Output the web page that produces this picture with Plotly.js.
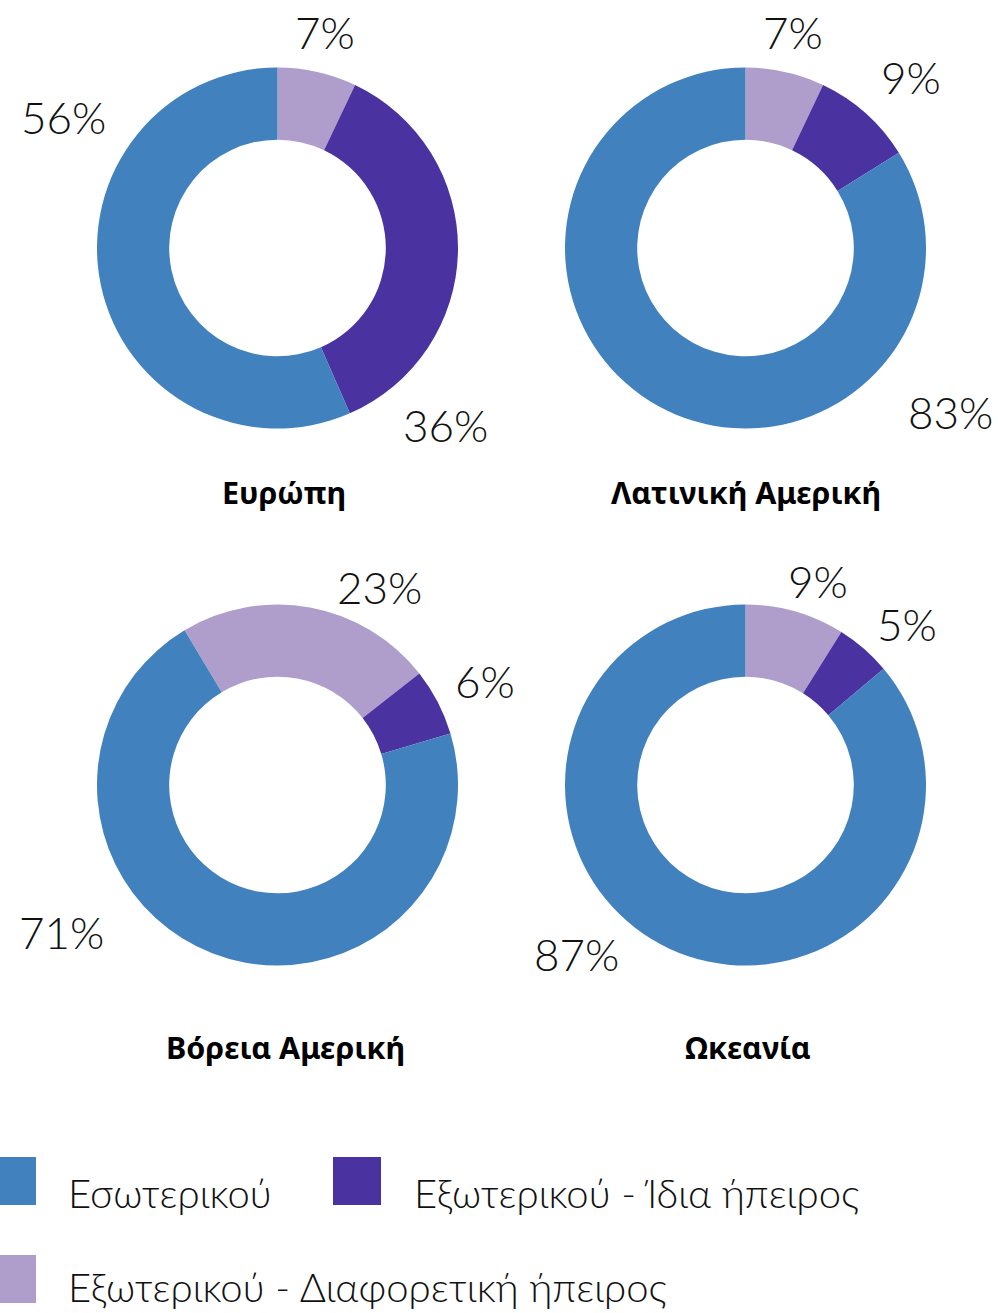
<!DOCTYPE html>
<html>
<head>
<meta charset="utf-8">
<script src="https://cdn.plot.ly/plotly-3.0.1.min.js"></script>
<style>
  html, body { margin: 0; padding: 0; background: #ffffff; }
  #chart { width: 998px; height: 1313px; }
</style>
</head>
<body>
<div id="chart"></div>
<script>
// ---- Data ----
const regions = ['Ευρώπη', 'Λατινική Αμερική', 'Βόρεια Αμερική', 'Ωκεανία'];
const categories = ['Εξωτερικού - Διαφορετική ήπειρος', 'Εξωτερικού - Ίδια ήπειρος', 'Εσωτερικού'];
const europe = [7, 36, 56];
const latinAmerica = [7, 9, 83];
const northAmerica = [23, 6, 71];
const oceania = [9, 5, 87];
const legendOrder = ['Εσωτερικού', 'Εξωτερικού - Ίδια ήπειρος', 'Εξωτερικού - Διαφορετική ήπειρος'];

// ---- Styling / layout (not data) ----
const W = 998, H = 1313;
const colors = {
  'Εξωτερικού - Διαφορετική ήπειρος': '#AF9ECC',
  'Εξωτερικού - Ίδια ήπειρος': '#4A33A0',
  'Εσωτερικού': '#4181BD'
};
const seriesList = [europe, latinAmerica, northAmerica, oceania];
const centers = [[277.5, 248], [745.5, 248], [277.5, 785], [745.5, 785]];
const radius = 180.5;
const rotations = [0, 0, -31, 0];
const titlePos = [[284, 492], [746, 492], [285, 1047], [748, 1047]];
const labelPos = [
  [[325, 32], [445, 425], [64, 117]],
  [[793, 32], [911, 77], [950, 412]],
  [[379, 587], [485, 681], [61, 932]],
  [[818, 581], [907, 624], [576, 954]]
];
// [square x, square y, text x, text center y]
const legendPos = [[-12, 1157, 66, 1193], [333, 1157, 412, 1193], [-12, 1255, 66, 1287]];
const sq = 48;

const px = x => x / W;
const py = y => 1 - y / H;

const data = seriesList.map((vals, k) => {
  const [cx, cy] = centers[k];
  return {
    type: 'pie',
    labels: categories,
    values: vals,
    hole: 0.6,
    sort: false,
    direction: 'clockwise',
    rotation: rotations[k],
    textinfo: 'none',
    hoverinfo: 'label+percent',
    showlegend: false,
    marker: { colors: categories.map(c => colors[c]), line: { width: 0 } },
    domain: { x: [px(cx - radius), px(cx + radius)], y: [py(cy + radius), py(cy - radius)] }
  };
});

const annotations = [];
seriesList.forEach((vals, k) => {
  vals.forEach((v, i) => {
    annotations.push({
      xref: 'paper', yref: 'paper',
      x: px(labelPos[k][i][0]), y: py(labelPos[k][i][1]),
      xanchor: 'center', yanchor: 'middle',
      text: v + '%', showarrow: false,
      font: { family: 'Lato, "Noto Sans", sans-serif', size: 44, color: '#111111', weight: 300 }
    });
  });
  annotations.push({
    xref: 'paper', yref: 'paper',
    x: px(titlePos[k][0]), y: py(titlePos[k][1]),
    xanchor: 'center', yanchor: 'middle',
    text: '<b>' + regions[k] + '</b>', showarrow: false,
    font: { family: '"Noto Sans", sans-serif', size: 30.5, color: '#000000' }
  });
});

const shapes = [];
legendOrder.forEach((name, i) => {
  const [sx, sy, tx, ty] = legendPos[i];
  shapes.push({
    type: 'rect', xref: 'paper', yref: 'paper',
    x0: px(sx), x1: px(sx + sq), y0: py(sy + sq), y1: py(sy),
    fillcolor: colors[name], line: { width: 0 }
  });
  annotations.push({
    xref: 'paper', yref: 'paper',
    x: px(tx), y: py(ty),
    xanchor: 'left', yanchor: 'middle',
    text: name, showarrow: false,
    font: { family: 'Lato, "Noto Sans", sans-serif', size: 40, color: '#111111', weight: 300 }
  });
});

const layout = {
  width: W, height: H,
  margin: { l: 0, r: 0, t: 0, b: 0 },
  paper_bgcolor: '#ffffff',
  plot_bgcolor: '#ffffff',
  showlegend: false,
  annotations: annotations,
  shapes: shapes
};

Plotly.newPlot('chart', data, layout, { displayModeBar: false, staticPlot: true });
</script>
</body>
</html>
